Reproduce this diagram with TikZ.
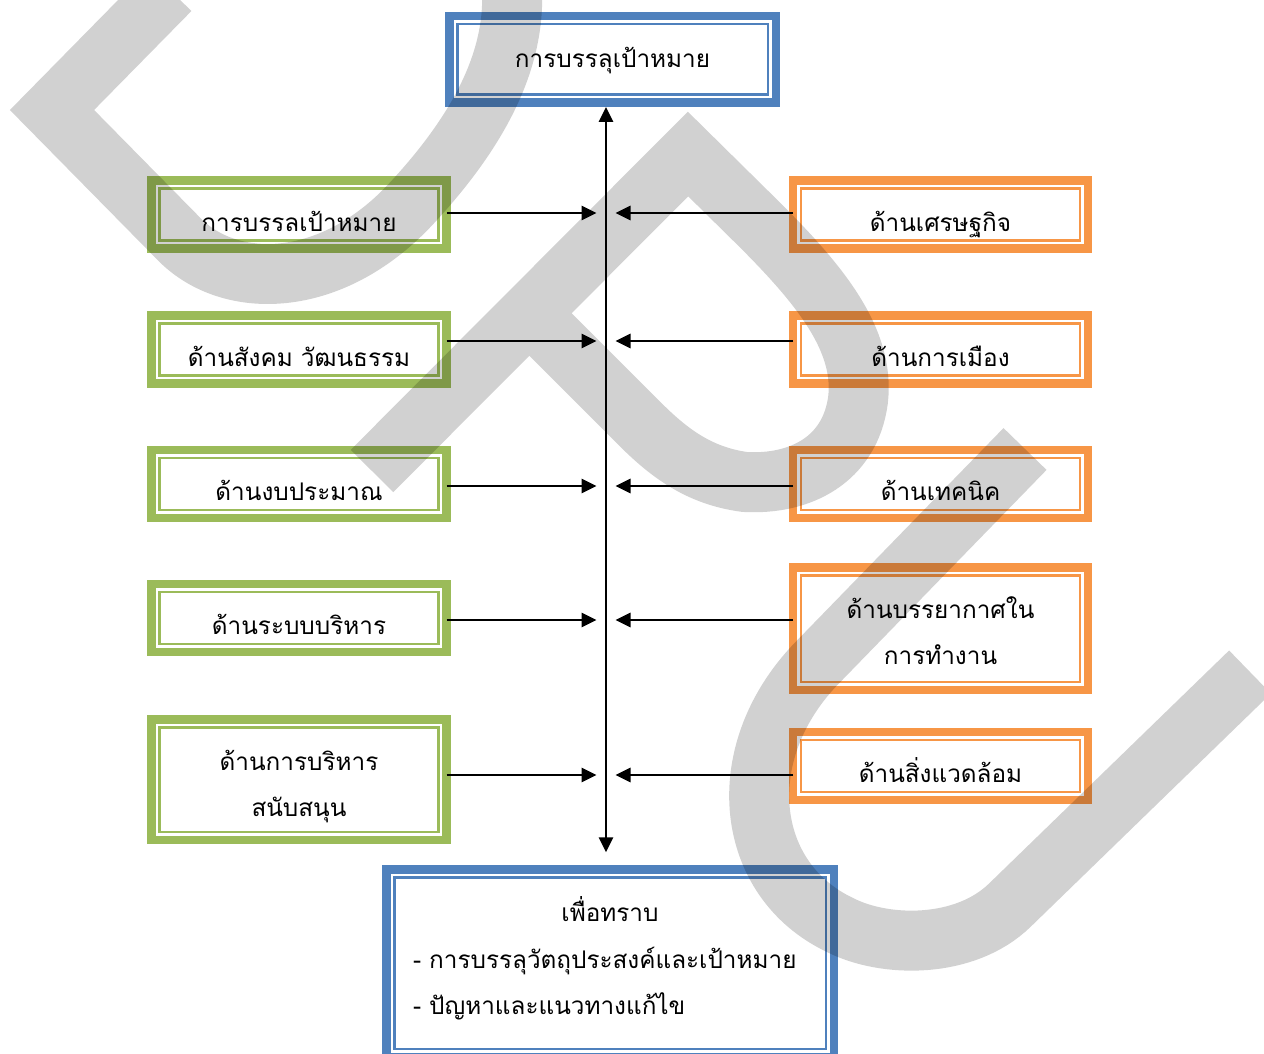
\documentclass[tikz,border=0pt]{standalone}
\usepackage{fontspec}
\newfontfamily\thaifont[Script=Thai]{Loma}
\usetikzlibrary{arrows.meta}
\definecolor{bl}{RGB}{79,129,189}
\definecolor{gr}{RGB}{155,187,89}
\definecolor{og}{RGB}{247,150,70}
\tikzset{
	box/.style={draw=#1, line width=8.5pt, fill=white, inner sep=0pt, outer sep=0pt,
		font={\fontsize{24.3}{46.5}\selectfont\thaifont}},
	row/.style={minimum width=295pt, minimum height=68pt, text height=33pt, text depth=0pt},
	inl/.style={line width=2.5pt},
	conn/.style={line width=2.8pt, -{Triangle[length=15pt,width=14pt]}, shorten >=9.5pt},
	spine/.style={line width=2.8pt, {Triangle[length=15pt,width=14pt]}-{Triangle[length=15pt,width=14pt]}},
	wm/.style={draw opacity=0.18, line width=60pt},
}
\begin{document}
\begin{tikzpicture}[x=1pt, y=-1pt]
	\useasboundingbox (0,0) rectangle (1264,1054);
	\clip (0,0) rectangle (1264,1054);

	\node[box=bl, minimum width=326.5pt, minimum height=86.5pt, text height=17pt, text depth=0pt] (top) at (612.5,59.5) {การบรรลุเป้าหมาย};

	\node[box=gr, row] (l1) at (299,214.5) {การบรรลเป้าหมาย};
	\node[box=gr, row] (l2) at (299,349.5) {ด้านสังคม วัฒนธรรม};
	\node[box=gr, row] (l3) at (299,484) {ด้านงบประมาณ};
	\node[box=gr, row] (l4) at (299,618) {ด้านระบบบริหาร};
	\node[box=gr, row, minimum height=120.5pt, text height=0pt, text depth=19pt, text width=280pt, align=center] (l5) at (299,779.5) {ด้านการบริหาร\\สนับสนุน};

	\node[box=og, row] (r1) at (940.5,214.5) {ด้านเศรษฐกิจ};
	\node[box=og, row] (r2) at (940.5,349.5) {ด้านการเมือง};
	\node[box=og, row] (r3) at (940.5,484) {ด้านเทคนิค};
	\node[box=og, row, minimum height=122.5pt, text height=0pt, text depth=21pt, text width=280pt, align=center] (r4) at (940.5,628.5) {ด้านบรรยากาศใน\\การทำงาน};
	\node[box=og, row] (r5) at (940.5,766) {ด้านสิ่งแวดล้อม};

	\node[box=bl, minimum width=447.5pt, minimum height=187.5pt, text width=394pt, align=left, text height=0pt, text depth=82.6pt] (bot) at (610,963) {\makebox[\linewidth]{เพื่อทราบ}\\- การบรรลุวัตถุประสงค์และเป้าหมาย\\- ปัญหาและแนวทางแก้ไข};

	\foreach \n/\c in {top/bl, l1/gr, l2/gr, l3/gr, l4/gr, l5/gr, r1/og, r2/og, r3/og, r4/og, r5/og, bot/bl}
		\draw[inl, \c] ([xshift=8pt, yshift=-8pt]\n.north west) rectangle ([xshift=-8pt, yshift=8pt]\n.south east);

	\coordinate (s1) at (606,213);
	\coordinate (s2) at (606,341);
	\coordinate (s3) at (606,486);
	\coordinate (s4) at (606,620);
	\coordinate (s5) at (606,775);

	\draw[spine, shorten <=4.25pt, shorten >=17pt] (s1 |- top.south) -- (s1 |- bot.north);
	\foreach \i in {1,...,5} {
		\draw[conn] (l\i.east |- s\i) -- (s\i);
		\draw[conn] (r\i.west |- s\i) -- (s\i);
	}

	% watermark
	\draw[wm] (170,-10) -- (52,110) -- (180,240) .. controls (230,290) and (330,290) .. (410,205) .. controls (480,130) and (515,60) .. (512,-10);
	\draw[wm] (372,471) -- (688,154) -- (760,225) .. controls (820,285) and (865,340) .. (858,400) .. controls (850,460) and (800,485) .. (745,482) .. controls (700,476) and (670,454) .. (640,424) -- (530,314);
	\draw[wm] (1025,449) -- (815,665) .. controls (730,755) and (745,880) .. (840,925) .. controls (885,948) and (965,949) .. (1010,905) -- (1250,672);
\end{tikzpicture}
\end{document}
